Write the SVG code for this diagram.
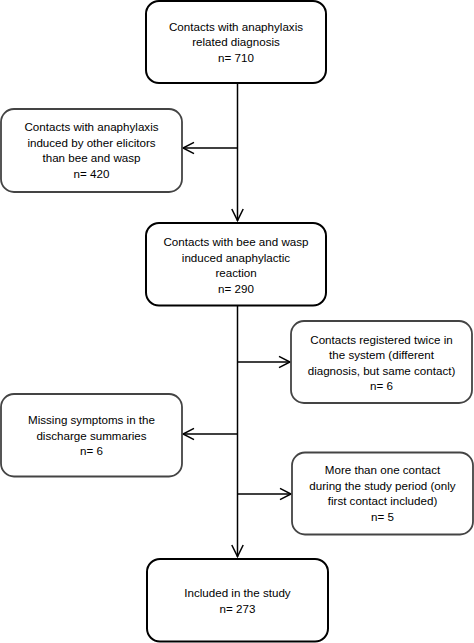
<svg xmlns="http://www.w3.org/2000/svg" width="474" height="643" viewBox="0 0 474 643">
<defs>
<style>
.main{fill:#fff;stroke:#000;stroke-width:2}
.side{fill:#fff;stroke:#444;stroke-width:1.8}
.t{font-family:"Liberation Sans",Arial,sans-serif;font-size:11.6px;fill:#000;text-anchor:middle}
.c{fill:none;stroke:#000;stroke-width:1.5}
.ah{fill:none;stroke:#000;stroke-width:1.5}
</style>
</defs>
<rect width="474" height="643" fill="#fff"/>
<g id="connectors">
<line class="c" x1="237.5" y1="84" x2="237.5" y2="221"/>
<line class="c" x1="237.5" y1="306" x2="237.5" y2="557"/>
<line class="c" x1="237.5" y1="148" x2="183" y2="148"/>
<line class="c" x1="237.5" y1="362" x2="290" y2="362"/>
<line class="c" x1="237.5" y1="434" x2="183" y2="434"/>
<line class="c" x1="237.5" y1="494" x2="291" y2="494"/>
<polyline class="ah" points="194,142.3 183,148 194,153.7"/>
<polyline class="ah" points="231.8,209 237.5,220.5 243.2,209"/>
<polyline class="ah" points="279,356.3 290,362 279,367.7"/>
<polyline class="ah" points="194,428.3 183,434 194,439.7"/>
<polyline class="ah" points="280,488.3 291,494 280,499.7"/>
<polyline class="ah" points="231.8,545 237.5,556.5 243.2,545"/>
</g>
<g id="n1">
<rect class="main" x="146" y="1" width="180" height="82" rx="13"/>
<text class="t" x="236" y="30.5">Contacts with anaphylaxis</text>
<text class="t" x="236" y="46">related diagnosis</text>
<text class="t" x="236" y="61.5">n= 710</text>
</g>
<g id="n2">
<rect class="side" x="1" y="109" width="181" height="83" rx="13"/>
<text class="t" x="91.5" y="131">Contacts with anaphylaxis</text>
<text class="t" x="91.5" y="146.5">induced by other elicitors</text>
<text class="t" x="91.5" y="162">than bee and wasp</text>
<text class="t" x="91.5" y="177.5">n= 420</text>
</g>
<g id="n3">
<rect class="main" x="146" y="223" width="180" height="82.5" rx="13"/>
<text class="t" x="236" y="246">Contacts with bee and wasp</text>
<text class="t" x="236" y="261.5">induced anaphylactic</text>
<text class="t" x="236" y="277">reaction</text>
<text class="t" x="236" y="292.5">n= 290</text>
</g>
<g id="n4">
<rect class="side" x="291" y="321" width="181" height="82" rx="13"/>
<text class="t" x="381.5" y="343.5">Contacts registered twice in</text>
<text class="t" x="381.5" y="359">the system (different</text>
<text class="t" x="381.5" y="374.5">diagnosis, but same contact)</text>
<text class="t" x="381.5" y="390">n= 6</text>
</g>
<g id="n5">
<rect class="side" x="1" y="394" width="181" height="82.5" rx="13"/>
<text class="t" x="91.5" y="424">Missing symptoms in the</text>
<text class="t" x="91.5" y="439.5">discharge summaries</text>
<text class="t" x="91.5" y="455">n= 6</text>
</g>
<g id="n6">
<rect class="side" x="292" y="452.5" width="181" height="82" rx="13"/>
<text class="t" x="382.5" y="474">More than one contact</text>
<text class="t" x="382.5" y="489.5">during the study period (only</text>
<text class="t" x="382.5" y="505">first contact included)</text>
<text class="t" x="382.5" y="520.5">n= 5</text>
</g>
<g id="n7">
<rect class="main" x="147" y="559" width="181" height="82.5" rx="13"/>
<text class="t" x="237.5" y="597">Included in the study</text>
<text class="t" x="237.5" y="612.5">n= 273</text>
</g>
</svg>
